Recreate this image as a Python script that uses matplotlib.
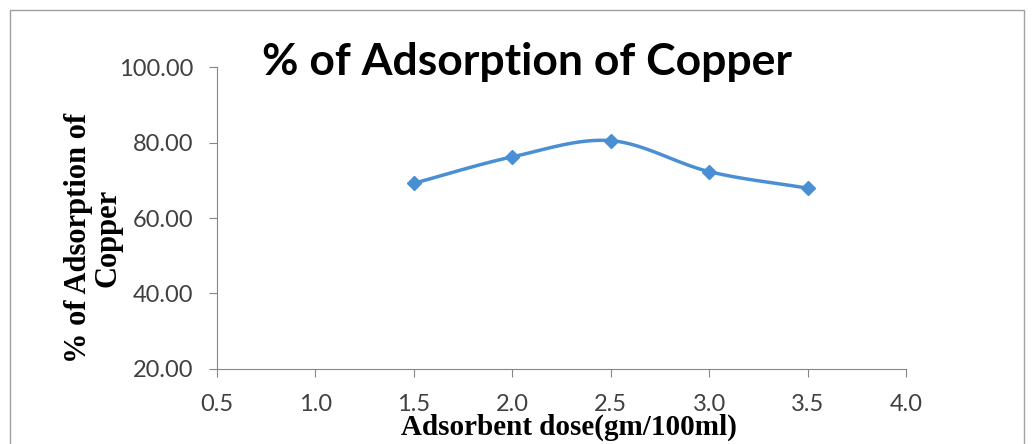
import numpy as np
import matplotlib.pyplot as plt
from matplotlib.patches import Rectangle

# dose (gm/100ml) vs % adsorption of copper
dose = [1.5, 2.0, 2.5, 3.0, 3.5]
adsorption = [69.2, 76.2, 80.5, 72.3, 67.9]
xticks = [0.5, 1.0, 1.5, 2.0, 2.5, 3.0, 3.5, 4.0]
yticks = [20, 40, 60, 80, 100]


def smooth(x, y, n=30):
    # catmull-rom through the points, like excel's smoothed line
    x = np.asarray(x, float)
    y = np.asarray(y, float)
    px = np.concatenate([[2 * x[0] - x[1]], x, [2 * x[-1] - x[-2]]])
    py = np.concatenate([[2 * y[0] - y[1]], y, [2 * y[-1] - y[-2]]])
    xs, ys = [], []
    t = np.linspace(0, 1, n)
    for i in range(1, len(px) - 2):
        for p, out in ((px, xs), (py, ys)):
            p0, p1, p2, p3 = p[i - 1], p[i], p[i + 1], p[i + 2]
            out.extend(0.5 * (2 * p1 + (-p0 + p2) * t
                              + (2 * p0 - 5 * p1 + 4 * p2 - p3) * t ** 2
                              + (-p0 + 3 * p1 - 3 * p2 + p3) * t ** 3))
    return xs, ys


fig = plt.figure(figsize=(10.33, 4.44), dpi=100)
fig.add_artist(Rectangle((10 / 1033, -0.1), 1014 / 1033, 1.1 - 10 / 444,
                         transform=fig.transFigure, fill=False,
                         edgecolor='#a0a0a0', lw=1))
ax = fig.add_axes([0.210, 0.169, 0.667, 0.680])

sx, sy = smooth(dose, adsorption)
ax.plot(sx, sy, color='#4a8fd3', lw=2.5, solid_capstyle='round')
ax.plot(dose, adsorption, ls='none', marker='D', ms=7, color='#4a8fd3')

ax.set_xlim(0.5, 4.0)
ax.set_ylim(20, 100)
ax.set_xticks(xticks)
ax.set_xticklabels(['%.1f' % v for v in xticks])
ax.set_yticks(yticks)
ax.set_yticklabels(['%.2f' % v for v in yticks])
for s in ['top', 'right']:
    ax.spines[s].set_visible(False)
for s in ['left', 'bottom']:
    ax.spines[s].set_color('#868686')
ax.tick_params(colors='#868686', length=6, labelcolor='#404040', labelsize=17)
ax.tick_params(axis='x', pad=12)
ax.tick_params(axis='y', pad=11)
for lab in ax.get_xticklabels() + ax.get_yticklabels():
    lab.set_family('Lato')

fig.text(569 / 1033, 17 / 444, 'Adsorbent dose(gm/100ml)',
         family='Liberation Serif', fontweight='bold', fontsize=21,
         ha='center', va='center')
fig.text(93 / 1033, 206 / 444, '% of Adsorption of\nCopper',
         family='Liberation Serif', fontweight='bold', fontsize=22,
         ha='center', va='center', rotation=90, linespacing=1.0,
         multialignment='center')

fig.text(0.51, 0.86, '% of Adsorption of Copper', family='Lato',
         fontweight='bold', fontsize=32, ha='center', va='center')

fig.savefig('out.png')
